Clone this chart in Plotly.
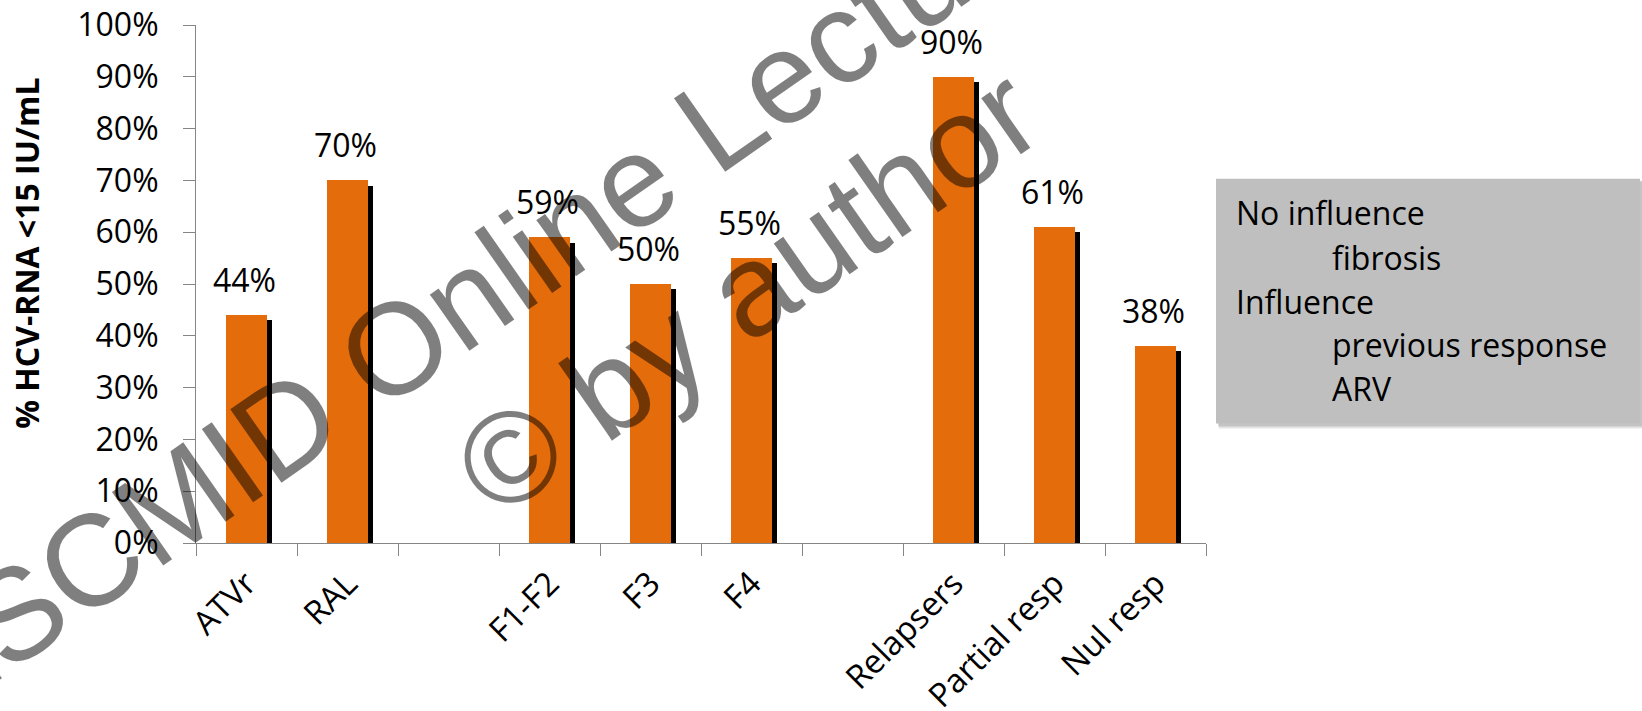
import plotly.graph_objects as go

categories = ["ATVr", "RAL", " ", "F1-F2", "F3", "F4", "  ", "Relapsers", "Partial resp", "Nul resp"]
values = [44, 70, None, 59, 50, 55, None, 90, 61, 38]
y_ticks = [0, 10, 20, 30, 40, 50, 60, 70, 80, 90, 100]
y_title = "% HCV-RNA <15 IU/mL"
box_lines = [("No influence", 0), ("fibrosis", 1), ("Influence", 0), ("previous response", 1), ("ARV", 1)]
watermark = ["ESCMID Online Lecture Library", "\u00a9 by author"]

W, H = 1642, 711
L, R, T, B = 196, 1206, 25, 543.5
FONT = "Open Sans"
ORANGE = "#E46C0A"
BAR_W = 0.415


def px(x):
    return (x - L) / (R - L)


def py(y):
    return (B - y) / (B - T)


fig = go.Figure()

# shadow bars
fig.add_trace(go.Bar(
    x=categories, y=values, base=-1.0, width=BAR_W, offset=-BAR_W / 2 + 0.045,
    marker=dict(color="black", line=dict(width=0)), cliponaxis=False,
    hoverinfo="skip", showlegend=False,
))
# main bars
fig.add_trace(go.Bar(
    x=categories, y=values, width=BAR_W, offset=-BAR_W / 2,
    marker=dict(color=ORANGE, line=dict(width=0)), cliponaxis=False,
    showlegend=False,
))

annotations = []
for c, v in zip(categories, values):
    if v is None:
        continue
    annotations.append(dict(
        x=c, y=v, xref="x", yref="y", text=f"{v}%", showarrow=False,
        xanchor="center", yanchor="bottom", yshift=12, xshift=-2,
        font=dict(family=FONT, size=32, color="black"),
    ))

# y axis title
annotations.append(dict(
    x=px(27), y=py(254), xref="paper", yref="paper", text=f"<b>{y_title}</b>",
    textangle=-90, showarrow=False, xanchor="center", yanchor="middle",
    font=dict(family=FONT, size=32, color="black"),
))

# box text
line_y = [213, 258, 302, 345, 389]
for (txt, indent), yy in zip(box_lines, line_y):
    annotations.append(dict(
        x=px(1234 if indent == 0 else 1330), y=py(yy), xref="paper", yref="paper",
        text=txt, showarrow=False, xanchor="left", yanchor="middle",
        font=dict(family=FONT, size=32, color="black"),
    ))

# watermark
wm_pos = [(655, 166), (747, 291)]
for txt, (wx, wy) in zip(watermark, wm_pos):
    annotations.append(dict(
        x=px(wx), y=py(wy), xref="paper", yref="paper", text=txt,
        textangle=-35, showarrow=False, xanchor="center", yanchor="middle",
        font=dict(family="Liberation Sans", size=130, color="rgba(0,0,0,0.5)"),
    ))

shapes = [
    # box shadow
    dict(type="rect", xref="paper", yref="paper", x0=px(1219), x1=px(1645), y0=py(182), y1=py(429),
         fillcolor="rgba(0,0,0,0.10)", line=dict(width=0), layer="above"),
    dict(type="rect", xref="paper", yref="paper", x0=px(1218), x1=px(1643), y0=py(181), y1=py(427),
         fillcolor="rgba(0,0,0,0.14)", line=dict(width=0), layer="above"),
    dict(type="rect", xref="paper", yref="paper", x0=px(1216), x1=px(1640), y0=py(179), y1=py(424),
         fillcolor="#BFBFBF", line=dict(width=0), layer="above"),
]

fig.update_layout(
    width=W, height=H,
    margin=dict(l=L, r=W - R, t=T, b=H - B, pad=0, autoexpand=False),
    paper_bgcolor="white", plot_bgcolor="white",
    barmode="overlay", bargap=0,
    font=dict(family=FONT, size=32, color="black"),
    annotations=annotations, shapes=shapes,
    xaxis=dict(
        type="category", categoryorder="array", categoryarray=categories,
        range=[-0.5, len(categories) - 0.5], automargin=False,
        showline=True, linecolor="#868686", linewidth=1,
        ticks="outside", ticklen=12, tickcolor="#868686", tickson="boundaries",
        tickangle=-45, ticklabelstandoff=7, tickfont=dict(family=FONT, size=33, color="black"),
        showgrid=False, zeroline=False, fixedrange=True,
    ),
    yaxis=dict(
        range=[0, 100], tickvals=y_ticks, ticktext=[f"{t}%" for t in y_ticks],
        automargin=False,
        showline=True, linecolor="#868686", linewidth=1,
        ticks="outside", ticklen=12, tickcolor="#868686", ticklabelstandoff=18,
        tickfont=dict(family=FONT, size=32, color="black"),
        showgrid=False, zeroline=False, fixedrange=True,
    ),
)

fig.write_html("out.html")
